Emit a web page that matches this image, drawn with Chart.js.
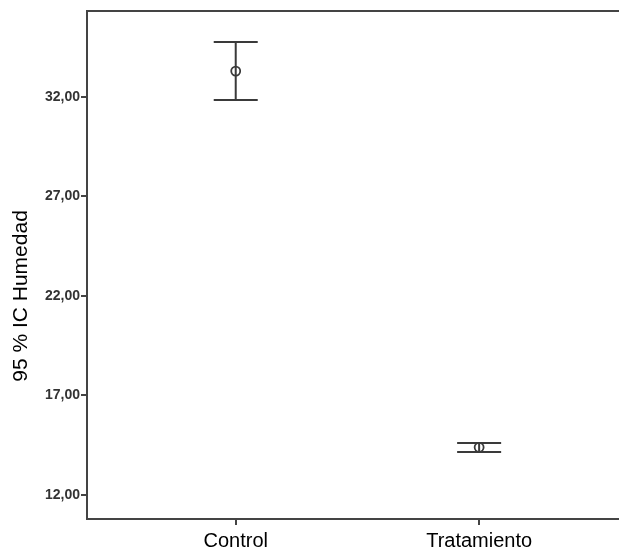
<!doctype html>
<html>
<head>
<meta charset="utf-8">
<script src="https://cdn.jsdelivr.net/npm/chart.js@4/dist/chart.umd.min.js"></script>
<style>
  html, body { margin: 0; padding: 0; background: #fff; overflow: hidden; }
  #wrap { width: 619px; height: 549px; overflow: hidden; }
</style>
<script>
// data
const categories = ['Control', 'Tratamiento'];
const meanValues = [33.30, 14.39];
const lowerCI = [31.85, 14.16];
const upperCI = [34.76, 14.61];
const yTicks = [12, 17, 22, 27, 32];
const yTitle = '95 % IC Humedad';

// draws the CI whiskers from the arrays above, through the chart scales
const errorBars = {
  id: 'errorBars',
  beforeDatasetsDraw(chart) {
    const c = chart.ctx, xs = chart.scales.x, ys = chart.scales.y;
    c.save();
    c.strokeStyle = '#3a3a3a';
    c.lineWidth = 2;
    for (let i = 0; i < categories.length; i++) {
      const x = xs.getPixelForValue(i + 1);
      const lo = ys.getPixelForValue(lowerCI[i]);
      const hi = ys.getPixelForValue(upperCI[i]);
      c.beginPath();
      c.moveTo(x, lo); c.lineTo(x, hi);
      c.moveTo(x - 22, hi); c.lineTo(x + 22, hi);
      c.moveTo(x - 22, lo); c.lineTo(x + 22, lo);
      c.stroke();
    }
    c.restore();
  }
};

// top frame line + y title (SPSS puts it a bit below the middle)
const frameAndTitle = {
  id: 'frameAndTitle',
  afterDraw(chart) {
    const a = chart.chartArea, c = chart.ctx;
    c.save();
    c.strokeStyle = '#444';
    c.lineWidth = 2;
    c.beginPath();
    c.moveTo(a.left - 1, a.top);
    c.lineTo(chart.width, a.top);
    c.stroke();

    c.translate(21, a.top + (a.bottom - a.top) * 0.561);
    c.rotate(-Math.PI / 2);
    c.fillStyle = '#000';
    c.font = '21px "Liberation Sans", Arial, sans-serif';
    c.textAlign = 'center';
    c.textBaseline = 'middle';
    c.fillText(yTitle, 0, 0);
    c.restore();
  }
};

function start() {
  const ctx = document.getElementById('ci-chart').getContext('2d');
  new Chart(ctx, {
    type: 'scatter',
    data: {
      datasets: [{
        label: 'Media',
        data: meanValues.map((v, i) => ({ x: i + 1, y: v })),
        pointStyle: 'circle',
        pointRadius: 4.5,
        pointBackgroundColor: 'rgba(255,255,255,0)',
        pointBorderColor: '#3a3a3a',
        pointBorderWidth: 1.8
      }]
    },
    options: {
      responsive: false,
      animation: false,
      layout: { padding: { top: 11, left: 0, right: 0, bottom: 0 } },
      plugins: { legend: { display: false }, tooltip: { enabled: false } },
      scales: {
        x: {
          type: 'linear',
          min: 0.389,
          max: 2.635,
          afterBuildTicks(s) { s.ticks = categories.map((c, i) => ({ value: i + 1 })); },
          afterFit(s) { s.height = 30; },
          ticks: {
            callback: v => categories[v - 1],
            color: '#000',
            font: { family: 'Liberation Sans, Arial, sans-serif', size: 20 },
            padding: 4,
            maxRotation: 0
          },
          grid: { drawOnChartArea: false, drawTicks: true, tickLength: 6, color: '#444', lineWidth: 2 },
          border: { color: '#444', width: 2 }
        },
        y: {
          min: 10.79,
          max: 36.32,
          afterBuildTicks(s) { s.ticks = yTicks.map(v => ({ value: v })); },
          afterFit(s) { s.width = 87; },
          ticks: {
            callback: v => v.toFixed(2).replace('.', ','),
            color: '#333',
            font: { family: 'Liberation Sans, Arial, sans-serif', size: 14, weight: 'bold' },
            padding: 1
          },
          grid: { drawOnChartArea: false, drawTicks: true, tickLength: 6, color: '#444', lineWidth: 2 },
          border: { color: '#444', width: 2 }
        }
      }
    },
    plugins: [errorBars, frameAndTitle]
  });
}
</script>
</head>
<body onload="start()">
<div id="wrap"><canvas id="ci-chart" width="640" height="549"></canvas></div>
</body>
</html>
